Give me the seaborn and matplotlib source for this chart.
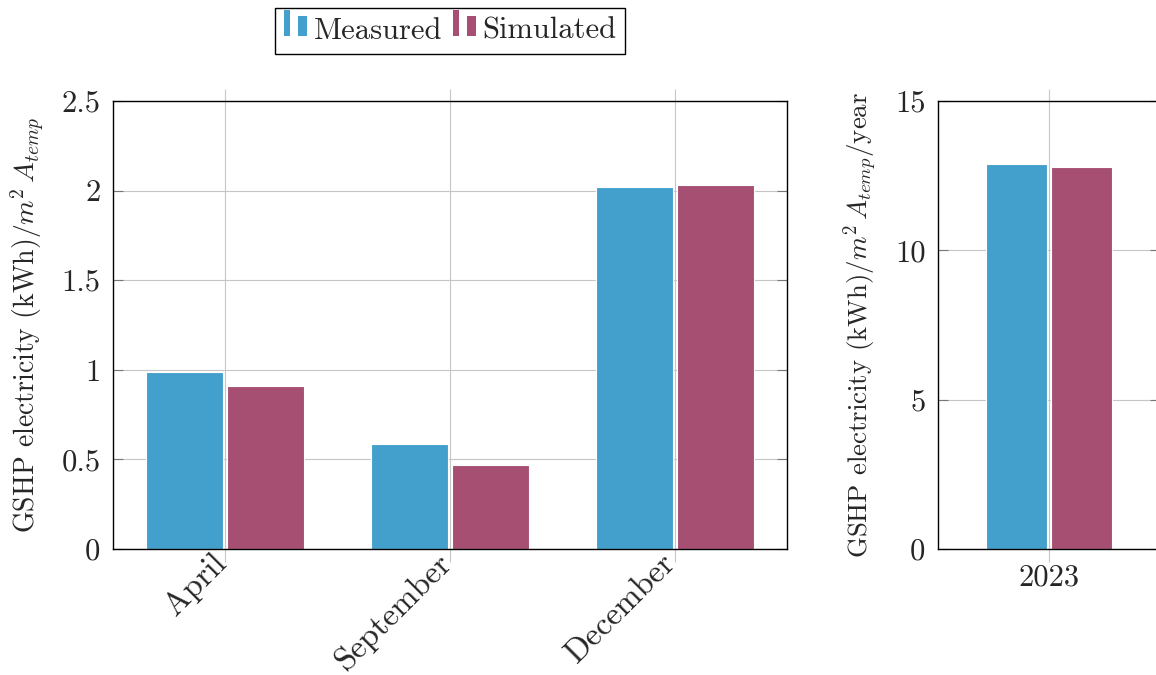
import numpy as np
import pandas as pd
import matplotlib
matplotlib.use("Agg")
import matplotlib.pyplot as plt
import matplotlib.transforms as mtransforms
import seaborn as sns
from matplotlib.patches import Rectangle
from matplotlib.legend_handler import HandlerBase
from matplotlib.ticker import FuncFormatter

# ---- data ----
months = ["April", "September", "December"]
measured_month = [0.988, 0.586, 2.02]
simulated_month = [0.908, 0.468, 2.03]

years = ["2023"]
measured_year = [12.89]
simulated_year = [12.79]

series = ["Measured", "Simulated"]
colors = ["#439fcb", "#a64f72"]

left_ticks = [0, 0.5, 1, 1.5, 2, 2.5]
right_ticks = [0, 5, 10, 15]

df_m = pd.DataFrame({
    "cat": months * 2,
    "series": [series[0]] * 3 + [series[1]] * 3,
    "value": measured_month + simulated_month,
})
df_y = pd.DataFrame({
    "cat": years * 2,
    "series": series,
    "value": measured_year + simulated_year,
})

sns.set_theme(style="white")
plt.rcParams["font.family"] = ["cmr10", "DejaVu Serif"]
plt.rcParams["mathtext.fontset"] = "cm"
plt.rcParams["axes.formatter.use_mathtext"] = True
plt.rcParams["axes.unicode_minus"] = False

W, H = 1156, 675
fig = plt.figure(figsize=(W / 100, H / 100), dpi=100)
ax1 = fig.add_axes([113 / W, 1 - 549 / H, 674 / W, 448 / H])
ax2 = fig.add_axes([938 / W, 1 - 549 / H, 222 / W, 448 / H])

pal = dict(zip(series, colors))
sns.barplot(data=df_m, x="cat", y="value", hue="series", palette=pal, ax=ax1,
            width=0.72, gap=0.05, legend=False, edgecolor="white", linewidth=0.8,
            saturation=1, errorbar=None)
sns.barplot(data=df_y, x="cat", y="value", hue="series", palette=pal, ax=ax2,
            width=0.585, gap=0.06, legend=False, edgecolor="white", linewidth=0.8,
            saturation=1, errorbar=None)

fmt = FuncFormatter(lambda v, p: f"{v:g}")
TICK_FS = 22
for ax, ylim, yt in [(ax1, (0, 2.5), left_ticks), (ax2, (0, 15), right_ticks)]:
    ax.set_ylim(*ylim)
    ax.set_yticks(yt)
    ax.yaxis.set_major_formatter(fmt)
    ax.grid(True, color="#c6c6c6", linewidth=0.8)
    ax.set_axisbelow(True)
    for s in ax.spines.values():
        s.set_visible(True)
        s.set_color("black")
        s.set_linewidth(1.0)
    ax.tick_params(axis="y", which="major", direction="in", length=7.5, width=0.8,
                   color="#777777", left=True, right=True, labelsize=TICK_FS, pad=9)
    ax.tick_params(axis="x", which="major", direction="out", length=9, width=0.8,
                   color="#c6c6c6", bottom=True, top=True, labelsize=TICK_FS, pad=2)
    ax.set_xlabel("")

ax1.set_xlim(-0.5, 2.5)
ax2.set_xlim(-0.5, 0.5)
offset = mtransforms.ScaledTranslation(-14 / 100, 16 / 100, fig.dpi_scale_trans)
for lab in ax1.get_xticklabels():
    lab.set_rotation(45)
    lab.set_ha("right")
    lab.set_rotation_mode("anchor")
    lab.set_fontsize(23.5)
    lab.set_transform(lab.get_transform() + offset)

ax1.set_ylabel(r"GSHP electricity (kWh)$/m^2\,A_{temp}$", fontsize=20, labelpad=11)
ax2.set_ylabel(r"GSHP electricity (kWh)$/m^2\,A_{temp}/$year", fontsize=19.3, labelpad=11)


class TwoBarHandler(HandlerBase):
    def create_artists(self, legend, orig_handle, xdescent, ydescent, width, height,
                       fontsize, trans):
        c = orig_handle.get_facecolor()
        x0 = -xdescent
        y0 = -ydescent + height * 0.12
        r1 = Rectangle((x0 + width * 0.0, y0), width * 0.24, height * 1.2, facecolor=c,
                       edgecolor="none", transform=trans)
        r2 = Rectangle((x0 + width * 0.55, y0), width * 0.36, height * 0.92, facecolor=c,
                       edgecolor="none", transform=trans)
        return [r1, r2]


handles = [Rectangle((0, 0), 1, 1, facecolor=c) for c in colors]
leg = fig.legend(handles, series, loc="upper center",
                 bbox_to_anchor=(450 / W, 1 - 8 / H), ncol=2, fontsize=22,
                 frameon=True, fancybox=False, edgecolor="black",
                 handler_map={Rectangle: TwoBarHandler()},
                 handlelength=0.85, handletextpad=0.12, columnspacing=0.35,
                 borderpad=0.3, borderaxespad=0)
leg.get_frame().set_linewidth(1.0)
leg.get_frame().set_alpha(1)

fig.savefig("out.png", dpi=100)
